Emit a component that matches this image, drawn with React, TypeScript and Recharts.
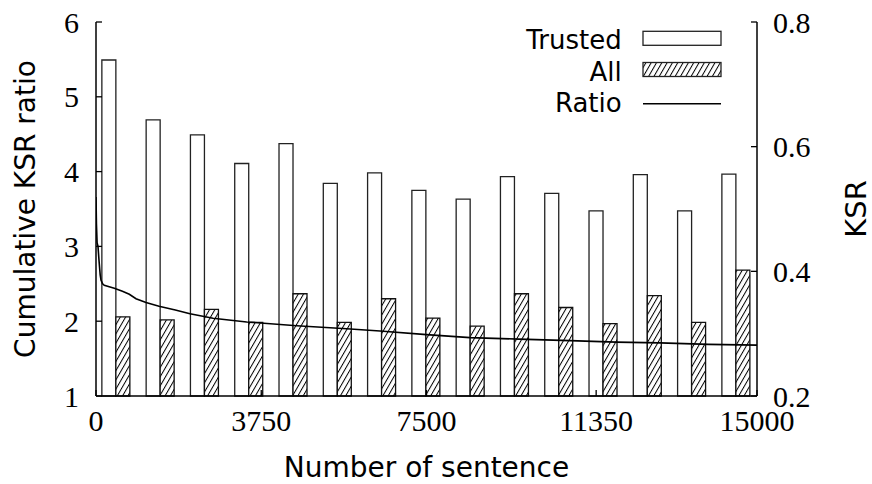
import { Bar, ComposedChart, Legend, Line, XAxis, YAxis } from "recharts";

// bar groups sit at these sentence counts
const groupCenters = [454, 1459, 2464, 3469, 4474, 5479, 6484, 7489, 8494, 9499, 10504, 11509, 12514, 13519, 14524];
const trustedKsr = [0.739, 0.643, 0.619, 0.573, 0.605, 0.541, 0.558, 0.53, 0.516, 0.552, 0.525, 0.497, 0.555, 0.497, 0.556];
const allKsr = [0.327, 0.322, 0.339, 0.318, 0.364, 0.318, 0.356, 0.325, 0.312, 0.364, 0.342, 0.316, 0.361, 0.318, 0.402];

// cumulative KSR ratio curve
const ratioSentences = [0, 10, 25, 45, 70, 95, 113, 150, 188, 300, 415, 600, 756, 908, 1135, 1430, 1800, 2133, 2655, 3420, 4554, 5689, 6444, 7500, 8487, 9600, 10756, 11800, 12799, 13900, 15000];
const ratioValues = [3.66, 3.3, 3.05, 3.0, 2.8, 2.62, 2.55, 2.5, 2.48, 2.46, 2.44, 2.4, 2.36, 2.3, 2.25, 2.2, 2.15, 2.1, 2.04, 1.99, 1.94, 1.9, 1.87, 1.82, 1.78, 1.76, 1.74, 1.72, 1.71, 1.69, 1.68];

const xTicks = [0, 3750, 7500, 11350, 15000];
const leftTicks = [1, 2, 3, 4, 5, 6];
const rightTicks = [0.2, 0.4, 0.6, 0.8];
const legendOrder = ["trusted", "all", "ratio"];

const barData = groupCenters.map((x, i) => ({ x, trusted: trustedKsr[i], all: allKsr[i] }));
const ratioData = ratioSentences.map((x, i) => ({ x, ratio: ratioValues[i] }));

const SANS = "DejaVu Sans";
const SERIF = "Liberation Serif";
const tickFont = { fontFamily: SERIF, fontSize: 30, fill: "#000" };
const frame = { stroke: "#000", strokeWidth: 1.5 };
const tickStroke = { stroke: "#000", strokeWidth: 1.3 };

function Hatch({ id }: { id: string }) {
  return (
    <pattern id={id} patternUnits="userSpaceOnUse" width={4.6} height={10} patternTransform="rotate(30)">
      <rect width={4.6} height={10} fill="#fff" />
      <line x1={0.5} y1={0} x2={0.5} y2={10} stroke="#000" strokeWidth={1} />
    </pattern>
  );
}

function LegendBox(props: any) {
  const rows = [...(props.payload || [])].sort(
    (a: any, b: any) => legendOrder.indexOf(a.dataKey) - legendOrder.indexOf(b.dataKey)
  );
  return (
    <svg width={240} height={100} style={{ display: "block" }}>
      <defs>
        <Hatch id="hatch-legend" />
      </defs>
      {rows.map((p: any, i: number) => {
        const base = 29.3 + i * 31.2;
        const mid = base - 11;
        return (
          <g key={p.dataKey}>
            <text x={121.7} y={base} textAnchor="end" fontFamily={SANS} fontSize={26} fill="#000">
              {p.value}
            </text>
            {p.dataKey === "ratio" ? (
              <line x1={143} x2={221} y1={mid + 3} y2={mid + 3} stroke="#000" strokeWidth={1.5} />
            ) : (
              <rect
                x={143}
                y={mid - 7}
                width={78}
                height={14}
                fill={p.dataKey === "all" ? "url(#hatch-legend)" : "#fff"}
                stroke="#222"
                strokeWidth={1.3}
              />
            )}
          </g>
        );
      })}
    </svg>
  );
}

export default function App() {
  return (
    <div style={{ position: "absolute", left: 0, top: 0, width: 872, height: 484, background: "#fff" }}>
      <ComposedChart
        width={872}
        height={484}
        data={barData}
        margin={{ top: 22, right: 0, bottom: 0, left: 0 }}
        barGap={0}
      >
        <defs>
          <Hatch id="hatch-all" />
        </defs>
        <XAxis
          xAxisId="bottom"
          dataKey="x"
          type="number"
          domain={[0, 15000]}
          allowDataOverflow
          ticks={xTicks}
          interval={0}
          height={88}
          tickSize={-6}
          tickMargin={20}
          tick={tickFont}
          axisLine={frame}
          tickLine={tickStroke}
          label={{
            content: () => (
              <text x={426.5} y={477} textAnchor="middle" fontFamily={SANS} fontSize={28} fill="#000">
                Number of sentence
              </text>
            ),
          }}
        />
        <XAxis
          xAxisId="top"
          orientation="top"
          dataKey="x"
          type="number"
          domain={[0, 15000]}
          allowDataOverflow
          ticks={xTicks}
          interval={0}
          height={0}
          tickSize={-6}
          tick={false}
          axisLine={frame}
          tickLine={tickStroke}
        />
        {/* hidden axis for the bar groups, same scale as the bottom one */}
        <XAxis
          xAxisId="bars"
          orientation="top"
          dataKey="x"
          type="number"
          domain={[0, 15000]}
          allowDataOverflow
          height={0}
          hide
        />
        <YAxis
          yAxisId="left"
          domain={[1, 6]}
          ticks={leftTicks}
          interval={0}
          width={96}
          tickSize={-6}
          tickMargin={23}
          tick={tickFont}
          axisLine={frame}
          tickLine={tickStroke}
          label={{
            content: () => (
              <text
                x={35}
                y={209}
                transform="rotate(-90, 35, 209)"
                textAnchor="middle"
                fontFamily={SANS}
                fontSize={28}
                fill="#000"
              >
                Cumulative KSR ratio
              </text>
            ),
          }}
        />
        <YAxis
          yAxisId="right"
          orientation="right"
          domain={[0.2, 0.8]}
          ticks={rightTicks}
          interval={0}
          width={115}
          tickSize={-6}
          tickMargin={22}
          tick={tickFont}
          tickFormatter={(v: number) => v.toFixed(1)}
          axisLine={frame}
          tickLine={tickStroke}
          label={{
            content: () => (
              <text
                x={866}
                y={209}
                transform="rotate(-90, 866, 209)"
                textAnchor="middle"
                fontFamily={SANS}
                fontSize={29}
                fill="#000"
              >
                KSR
              </text>
            ),
          }}
        />
        <Bar
          xAxisId="bars"
          yAxisId="right"
          dataKey="trusted"
          name="Trusted"
          barSize={14}
          fill="#fff"
          stroke="#222"
          strokeWidth={1.3}
          isAnimationActive={false}
        />
        <Bar
          xAxisId="bars"
          yAxisId="right"
          dataKey="all"
          name="All"
          barSize={14}
          fill="url(#hatch-all)"
          stroke="#111"
          strokeWidth={1.3}
          isAnimationActive={false}
        />
        <Line
          xAxisId="bottom"
          yAxisId="left"
          data={ratioData}
          dataKey="ratio"
          name="Ratio"
          type="linear"
          stroke="#000"
          strokeWidth={1.6}
          dot={false}
          isAnimationActive={false}
        />
        <Legend
          layout="horizontal"
          verticalAlign="middle"
          align="center"
          content={<LegendBox />}
          wrapperStyle={{ left: 500, top: 20, width: 240, height: 100 }}
        />
      </ComposedChart>
    </div>
  );
}
